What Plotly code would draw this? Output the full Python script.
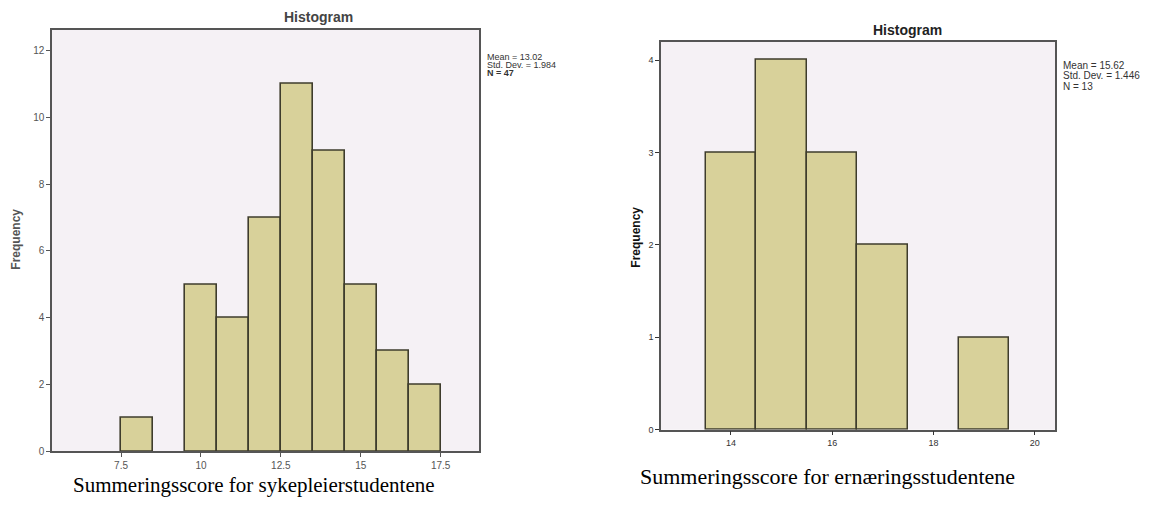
import plotly.graph_objects as go

# Left histogram: Summeringsscore for sykepleierstudentene
left_centers = [8, 10, 11, 12, 13, 14, 15, 16, 17]
left_counts = [1, 5, 4, 7, 11, 9, 5, 3, 2]
left_xticks = [7.5, 10, 12.5, 15, 17.5]
left_xticklabels = ["7.5", "10", "12.5", "15", "17.5"]
left_yticks = [0, 2, 4, 6, 8, 10, 12]
left_stats = ["Mean = 13.02", "Std. Dev. = 1.984", "N = 47"]
left_caption = "Summeringsscore for sykepleierstudentene"

# Right histogram: Summeringsscore for ernæringsstudentene
right_centers = [14, 15, 16, 17, 19]
right_counts = [3, 4, 3, 2, 1]
right_xticks = [14, 16, 18, 20]
right_xticklabels = ["14", "16", "18", "20"]
right_yticks = [0, 1, 2, 3, 4]
right_stats = ["Mean = 15.62", "Std. Dev. = 1.446", "N = 13"]
right_caption = "Summeringsscore for ernæringsstudentene"

W, H = 1150, 505
OFF = 8  # page body margin in the browser
FW, FH = W - OFF, H - OFF
BAR_FILL = "#D8D19A"
BAR_LINE = "#3E3C2C"
BG = "#F5F1F5"

def px(x):
    return (x - OFF) / FW

def py(y):
    return 1 - (y - OFF) / FH

fig = go.Figure()
fig.add_trace(go.Bar(x=left_centers, y=left_counts, width=1,
                     marker=dict(color=BAR_FILL, line=dict(color=BAR_LINE, width=1.6)),
                     xaxis="x", yaxis="y", showlegend=False, hoverinfo="x+y"))
fig.add_trace(go.Bar(x=right_centers, y=right_counts, width=1,
                     marker=dict(color=BAR_FILL, line=dict(color=BAR_LINE, width=1.5)),
                     xaxis="x2", yaxis="y2", showlegend=False, hoverinfo="x+y"))

axis_common = dict(showgrid=False, zeroline=False, showline=True, mirror=True,
                   linewidth=1.5, ticks="outside", ticklen=4, tickwidth=1.2,
                   fixedrange=True)

fig.update_layout(
    width=FW, height=FH,
    margin=dict(l=0, r=0, t=0, b=0),
    paper_bgcolor="white",
    plot_bgcolor=BG,
    bargap=0,
    font=dict(family="Liberation Sans, Arial, sans-serif"),
    xaxis=dict(domain=[px(52), px(479)], range=[5.34, 18.7], anchor="y",
               tickvals=left_xticks, ticktext=left_xticklabels,
               tickfont=dict(size=10, color="#555"), linecolor="#555",
               tickcolor="#555", **axis_common),
    yaxis=dict(domain=[py(456), py(30)], range=[0, 12.62], anchor="x",
               tickvals=left_yticks, tickfont=dict(size=10, color="#555"),
               linecolor="#555", tickcolor="#555", **axis_common),
    xaxis2=dict(domain=[px(661), px(1055)], range=[12.62, 20.4], anchor="y2",
                tickvals=right_xticks, ticktext=right_xticklabels,
                tickfont=dict(size=9, color="#333"), linecolor="#555",
                tickcolor="#333", **axis_common),
    yaxis2=dict(domain=[py(434), py(42)], range=[0, 4.2], anchor="x2",
                tickvals=right_yticks, tickfont=dict(size=9, color="#333"),
                linecolor="#555", tickcolor="#333", **axis_common),
)

ann = []
# Titles
ann.append(dict(text="<b>Histogram</b>", x=px(318), y=py(17), xref="paper", yref="paper",
                showarrow=False, font=dict(size=14, color="#444"), xanchor="center", yanchor="middle"))
ann.append(dict(text="<b>Histogram</b>", x=px(907), y=py(30), xref="paper", yref="paper",
                showarrow=False, font=dict(size=14, color="#222"), xanchor="center", yanchor="middle"))
# Y axis titles
ann.append(dict(text="<b>Frequency</b>", x=px(16), y=py(242), xref="paper", yref="paper",
                showarrow=False, textangle=-90, font=dict(size=12, color="#555"),
                xanchor="center", yanchor="middle"))
ann.append(dict(text="<b>Frequency</b>", x=px(636), y=py(240), xref="paper", yref="paper",
                showarrow=False, textangle=-90, font=dict(size=12, color="#111"),
                xanchor="center", yanchor="middle"))
# Stats boxes
for i, s in enumerate(left_stats):
    ann.append(dict(text=("<b>%s</b>" % s) if i == 2 else s, x=px(485), y=py(57 + 8.5 * i),
                    xref="paper", yref="paper", showarrow=False,
                    font=dict(size=9, color="#333"), xanchor="left", yanchor="middle"))
for i, s in enumerate(right_stats):
    ann.append(dict(text=s, x=px(1061), y=py(66 + 10.5 * i), xref="paper", yref="paper",
                    showarrow=False, font=dict(size=10, color="#333"),
                    xanchor="left", yanchor="middle"))
# Captions
ann.append(dict(text=left_caption, x=px(71), y=py(490), xref="paper", yref="paper",
                showarrow=False, font=dict(size=21, color="#000",
                                           family="Liberation Serif, Times New Roman, serif"),
                xanchor="left", yanchor="middle"))
ann.append(dict(text=right_caption, x=px(638), y=py(481), xref="paper", yref="paper",
                showarrow=False, font=dict(size=22, color="#000",
                                           family="Liberation Serif, Times New Roman, serif"),
                xanchor="left", yanchor="middle"))
fig.update_layout(annotations=ann)

fig.write_html("out.html")
